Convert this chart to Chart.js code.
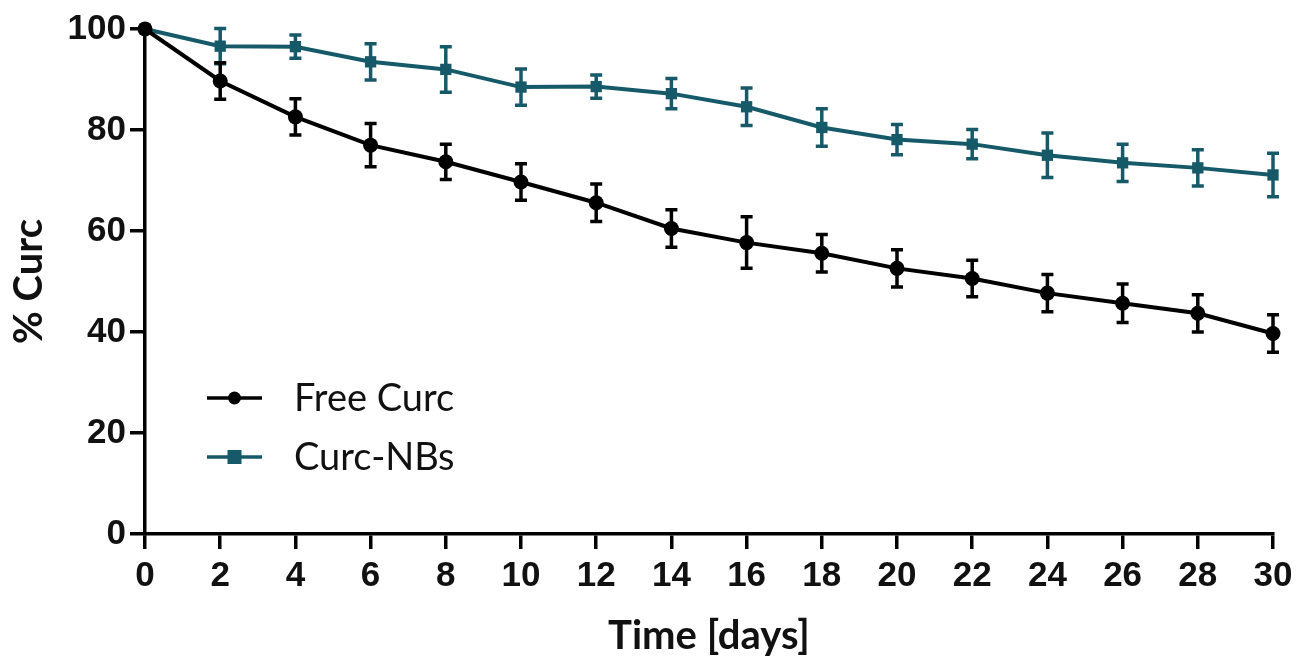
<!DOCTYPE html>
<html>
<head>
<meta charset="utf-8">
<script src="https://cdn.jsdelivr.net/npm/chart.js@4/dist/chart.umd.min.js"></script>
<style>
html,body{margin:0;padding:0;background:#fff;}
#wrap{width:1312px;height:664px;position:relative;}
</style>
</head>
<body>
<div id="wrap"><canvas id="c" width="1312" height="664"></canvas></div>
<script>
const days = [0, 2, 4, 6, 8, 10, 12, 14, 16, 18, 20, 22, 24, 26, 28, 30];
const freeCurc = [100, 89.7, 82.6, 77, 73.7, 69.7, 65.6, 60.5, 57.7, 55.6, 52.6, 50.6, 47.7, 45.7, 43.7, 39.7];
const freeCurcErr = [0, 3.6, 3.6, 4.3, 3.5, 3.6, 3.7, 3.7, 5.1, 3.7, 3.7, 3.6, 3.7, 3.8, 3.7, 3.7];
const curcNBs = [100, 96.6, 96.5, 93.5, 92, 88.5, 88.6, 87.2, 84.6, 80.5, 78.1, 77.2, 75, 73.5, 72.5, 71.1];
const curcNBsErr = [0, 3.5, 2.3, 3.6, 4.5, 3.6, 2.3, 3.0, 3.7, 3.7, 3.0, 2.9, 4.4, 3.7, 3.6, 4.3];
const seriesLabels = ['Free Curc', 'Curc-NBs'];
const yTicks = [0, 20, 40, 60, 80, 100];
const xTitle = 'Time [days]';
const yTitle = '% Curc';

const BLACK = '#000000';
const TEAL = '#165a69';

function pts(vals){ return days.map((d,i)=>({x:d, y:vals[i]})); }

const errorBars = {
  id: 'errorBars',
  beforeDatasetDraw(chart, args) {
    const ds = chart.data.datasets[args.index];
    const meta = args.meta;
    const ys = chart.scales.y;
    const ctx = chart.ctx;
    ctx.save();
    ctx.strokeStyle = ds.borderColor;
    ctx.lineWidth = 3.5;
    meta.data.forEach((p, i) => {
      const e = ds.errors[i];
      if (!e) return;
      const v = ds.data[i].y;
      const yt = ys.getPixelForValue(v + e);
      const yb = ys.getPixelForValue(v - e);
      ctx.beginPath();
      ctx.moveTo(p.x, yt); ctx.lineTo(p.x, yb);
      ctx.moveTo(p.x - 6, yt); ctx.lineTo(p.x + 6, yt);
      ctx.moveTo(p.x - 6, yb); ctx.lineTo(p.x + 6, yb);
      ctx.stroke();
    });
    ctx.restore();
  }
};

const legendPlugin = {
  id: 'innerLegend',
  afterDraw(chart) {
    const ctx = chart.ctx;
    ctx.save();
    chart.data.datasets.forEach((ds, i) => {
      const y = 398 + i * 59;
      const x0 = 207, x1 = 262, xm = (x0 + x1) / 2;
      ctx.strokeStyle = ds.borderColor;
      ctx.fillStyle = ds.borderColor;
      ctx.lineWidth = 3.5;
      ctx.beginPath(); ctx.moveTo(x0, y); ctx.lineTo(x1, y); ctx.stroke();
      if (ds.pointStyle === 'rect') {
        ctx.fillRect(xm - 7, y - 7, 14, 14);
      } else {
        ctx.beginPath(); ctx.arc(xm, y, 6.5, 0, Math.PI * 2); ctx.fill();
      }
      ctx.fillStyle = '#111';
      ctx.font = '38px Lato, "Open Sans", sans-serif';
      ctx.textBaseline = 'middle';
      ctx.textAlign = 'left';
      ctx.fillText(ds.label, 294, y + 1);
    });
    ctx.restore();
  }
};

const tickFont = {family: '"Liberation Sans", Arial, sans-serif', size: 35, weight: 'bold'};
const titleFont = {family: 'Lato, "Open Sans", sans-serif', size: 40, weight: 'bold'};

new Chart(document.getElementById('c'), {
  type: 'line',
  data: {
    datasets: [
      {label: seriesLabels[0], data: pts(freeCurc), errors: freeCurcErr, borderColor: BLACK, backgroundColor: BLACK,
       borderWidth: 4, pointStyle: 'circle', pointRadius: 7.5, pointBackgroundColor: BLACK, pointBorderWidth: 0, clip: false, tension: 0},
      {label: seriesLabels[1], data: pts(curcNBs), errors: curcNBsErr, borderColor: TEAL, backgroundColor: TEAL,
       borderWidth: 4, pointStyle: 'rect', pointRadius: 8, pointBackgroundColor: TEAL, pointBorderWidth: 0, clip: false, tension: 0}
    ]
  },
  options: {
    responsive: false,
    animation: false,
    layout: {padding: {left: 0, top: 29, right: 39, bottom: 0}},
    plugins: {legend: {display: false}, tooltip: {enabled: false}},
    scales: {
      x: {
        type: 'linear', min: 0, max: 30,
        afterFit(s) { s.height = 130; },
        border: {display: true, color: BLACK, width: 3.5},
        grid: {display: true, drawOnChartArea: false, drawTicks: true, tickLength: 15, color: BLACK, lineWidth: 3.5},
        ticks: {stepSize: 2, color: '#111', font: tickFont, padding: 6, maxRotation: 0, autoSkip: false},
        title: {display: true, text: xTitle, color: '#111', font: titleFont, padding: {top: 2, bottom: 4}}
      },
      y: {
        type: 'linear', min: 0, max: 100,
        afterFit(s) { s.width = 145; },
        afterBuildTicks(s) { s.ticks = yTicks.map(v => ({value: v})); },
        border: {display: true, color: BLACK, width: 3.5},
        grid: {display: true, drawOnChartArea: false, drawTicks: true, tickLength: 15, color: BLACK, lineWidth: 3.5},
        ticks: {color: '#111', font: tickFont, padding: 4},
        title: {display: true, text: yTitle, color: '#111', font: titleFont, padding: {top: 5, bottom: 2}}
      }
    }
  },
  plugins: [errorBars, legendPlugin]
});
</script>
</body>
</html>
